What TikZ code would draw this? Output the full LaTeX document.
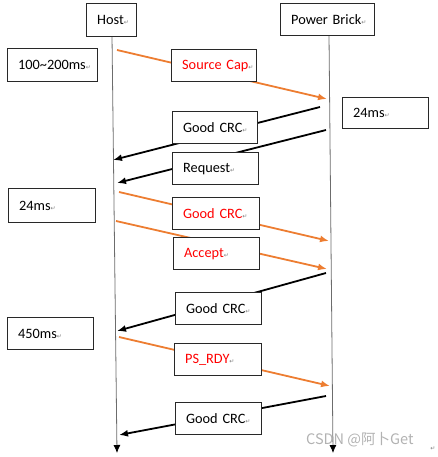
\documentclass[tikz,border=0pt]{standalone}
\usepackage{fontspec}
\setmainfont{Carlito}
\newfontfamily\symfont{DejaVu Sans}
\newfontfamily\cjkfont{Noto Sans CJK SC}
\usetikzlibrary{arrows.meta}
\definecolor{msgorange}{RGB}{237,125,49}
\definecolor{boxline}{RGB}{40,40,40}
\newcommand{\pmark}{{\symfont\fontsize{6}{6}\selectfont\textcolor{gray}{↵}}}
\begin{document}
\begin{tikzpicture}[x=1pt,y=-1pt,
  box/.style={draw=boxline,line width=1.3pt,fill=white,anchor=north west,
    inner xsep=10.5pt,inner ysep=0pt,align=left,
    font=\fontsize{14.3}{16}\selectfont},
  redtxt/.style={text=red},
  life/.style={draw=gray!85!black,line width=0.8pt,-{Latex[length=8pt,width=7pt,black]}},
  omsg/.style={draw=msgorange,line width=1.8pt,-{Latex[length=9pt,width=7pt]}},
  bmsg/.style={draw=black,line width=1.8pt,-{Latex[length=9pt,width=7pt]}}
]
\useasboundingbox (0,0) rectangle (438,457);
% lifeline ends
\coordinate (h0) at (112,36);
\coordinate (h1) at (117,453);
\coordinate (p0) at (329,35);
\coordinate (p1) at (333,453);
\draw[life] (h0) -- (h1);
\draw[life] (p0) -- (p1);
% message end points
\coordinate (o1s) at (117,50);  \coordinate (o1e) at (327,99);
\coordinate (b1s) at (320,107); \coordinate (b1e) at (113,160);
\coordinate (b2s) at (326,130); \coordinate (b2e) at (117,183);
\coordinate (o2s) at (119,192); \coordinate (o2e) at (329,241);
\coordinate (o3s) at (116,221); \coordinate (o3e) at (327,269);
\coordinate (b3s) at (326,273); \coordinate (b3e) at (117,331);
\coordinate (o4s) at (119,337); \coordinate (o4e) at (330,386);
\coordinate (b4s) at (326,396); \coordinate (b4e) at (119,435);
\draw[omsg] (o1s) -- (o1e);
\draw[bmsg] (b1s) -- (b1e);
\draw[bmsg] (b2s) -- (b2e);
\draw[omsg] (o2s) -- (o2e);
\draw[omsg] (o3s) -- (o3e);
\draw[bmsg] (b3s) -- (b3e);
\draw[omsg] (o4s) -- (o4e);
\draw[bmsg] (b4s) -- (b4e);
% boxes
\node[box,minimum width=50pt,minimum height=33pt,text width=29pt] (host) at (86,3) {\mbox{Host\pmark}};
\node[box,minimum width=94pt,minimum height=32pt,text width=73pt] (power) at (280,3) {\mbox{Power Brick\pmark}};
\node[box,minimum width=90pt,minimum height=33pt,text width=69pt] (t1) at (7,48) {\mbox{100\textasciitilde200ms\pmark}};
\node[box,redtxt,minimum width=85pt,minimum height=32pt,text width=64pt] (sc) at (171,49) {\mbox{Source Cap\pmark}};
\node[box,minimum width=86pt,minimum height=31pt,text width=65pt] (t2) at (342,97) {\mbox{24ms\pmark}};
\node[box,minimum width=85pt,minimum height=32pt,text width=64pt] (gc1) at (172,111) {\mbox{Good CRC\pmark}};
\node[box,minimum width=86pt,minimum height=32pt,text width=65pt] (req) at (172,152) {\mbox{Request\pmark}};
\node[box,minimum width=87pt,minimum height=34pt,text width=66pt] (t3) at (8,188) {\mbox{24ms\pmark}};
\node[box,redtxt,minimum width=87pt,minimum height=32pt,text width=66pt] (gc2) at (172,197) {\mbox{Good CRC\pmark}};
\node[box,redtxt,minimum width=86pt,minimum height=32pt,text width=65pt] (acc) at (173,237) {\mbox{Accept\pmark}};
\node[box,minimum width=86pt,minimum height=32pt,text width=65pt] (gc3) at (175,292) {\mbox{Good CRC\pmark}};
\node[box,minimum width=86pt,minimum height=32pt,text width=65pt] (t4) at (7,317) {\mbox{450ms\pmark}};
\node[box,redtxt,minimum width=87pt,minimum height=32pt,text width=66pt] (ps) at (174,343) {\mbox{PS\_RDY\pmark}};
\node[box,minimum width=86pt,minimum height=32pt,text width=65pt] (gc4) at (175,402) {\mbox{Good CRC\pmark}};
% watermark
\node[anchor=west,inner sep=0pt,text=gray!60,font=\cjkfont\fontsize{14.5}{16}\selectfont] (wm) at (306,440) {CSDN @阿卜Get};
\node[inner sep=0pt] (endmark) at (433,449) {\pmark};
\end{tikzpicture}
\end{document}
